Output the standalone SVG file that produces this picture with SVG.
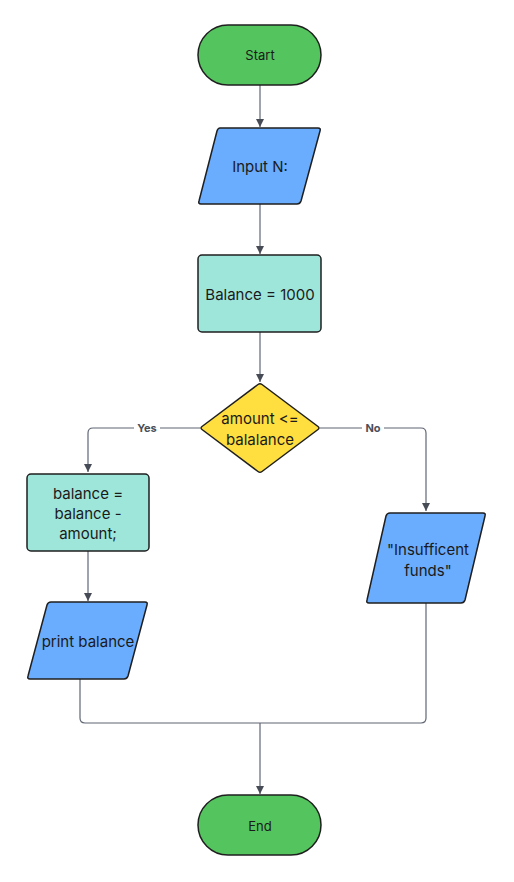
<svg xmlns="http://www.w3.org/2000/svg" width="514" height="882" viewBox="0 0 514 882">
<style>
.n{stroke:#1f1f1f;stroke-width:1.5;stroke-linejoin:round}
.term{fill:#54c45e}
.io{fill:#6aadff}
.proc{fill:#9fe6da}
.dec{fill:#ffdf3f}
.t{font-family:Inter,"Liberation Sans",sans-serif;font-size:15px;fill:#1a1a1a;text-anchor:middle;dominant-baseline:central}
.ts{font-size:13px}
.c{fill:none;stroke:#5f6673;stroke-width:1.2}
.lbl{font-family:Inter,"Liberation Sans",sans-serif;font-size:11px;font-weight:bold;fill:#4a4f59;text-anchor:middle;dominant-baseline:central}
</style>
<defs>
<marker id="ah" viewBox="0 0 10 10" refX="10" refY="5" markerWidth="8" markerHeight="8" markerUnits="userSpaceOnUse" orient="auto">
<path d="M0,0 L10,5 L0,10 Z" fill="#464b55"/>
</marker>
</defs>
<rect width="514" height="882" fill="#ffffff"/>
<g id="connectors">
<path class="c" d="M260,85 V127" marker-end="url(#ah)"/>
<path class="c" d="M260,204 V254" marker-end="url(#ah)"/>
<path class="c" d="M260,332 V382" marker-end="url(#ah)"/>
<path class="c" d="M200,428 H93 Q88,428 88,433 V472" marker-end="url(#ah)"/>
<path class="c" d="M320,428 H421 Q426,428 426,433 V511" marker-end="url(#ah)"/>
<path class="c" d="M88,551 V601" marker-end="url(#ah)"/>
<path class="c" d="M80,679 V718 Q80,723 85,723 H421 Q426,723 426,718 V603"/>
<path class="c" d="M260,723 V794" marker-end="url(#ah)"/>
<rect x="134" y="421" width="26" height="14" fill="#ffffff"/>
<text class="lbl" x="147" y="428">Yes</text>
<rect x="362" y="421" width="22" height="14" fill="#ffffff"/>
<text class="lbl" x="373" y="428">No</text>
</g>
<g id="start">
<rect class="n term" x="198" y="25" width="123" height="60" rx="30"/>
<text class="t ts" x="260" y="55">Start</text>
</g>
<g id="input">
<path class="n io" d="M220,128 H318 Q321,128 320,131 L301,201 Q300,204 297,204 H201 Q198,204 199,201 L217,131 Q218,128 220,128 Z"/>
<text class="t" x="260" y="166">Input N:</text>
</g>
<g id="init">
<rect class="n proc" x="198" y="255" width="123" height="77" rx="4"/>
<text class="t" x="260" y="294">Balance = 1000</text>
</g>
<g id="decision">
<path class="n dec" d="M258,384.5 Q260,383 262,384.5 L318,426.5 Q320,428 318,429.5 L262,471.5 Q260,473 258,471.5 L202,429.5 Q200,428 202,426.5 Z"/>
<text class="t" x="260" y="418">amount &lt;=</text>
<text class="t" x="260" y="439">balalance</text>
</g>
<g id="subtract">
<rect class="n proc" x="27" y="474" width="122" height="77" rx="4"/>
<text class="t" x="88" y="493">balance =</text>
<text class="t" x="88" y="513">balance -</text>
<text class="t" x="88" y="533">amount;</text>
</g>
<g id="print">
<path class="n io" d="M51,602 H145 Q148,602 147,605 L128,676 Q127,679 124,679 H30 Q27,679 28,676 L47,605 Q48,602 51,602 Z"/>
<text class="t" x="88" y="641">print balance</text>
</g>
<g id="insufficient">
<path class="n io" d="M390,513 H483 Q486,513 485,516 L465,600 Q464,603 461,603 H369 Q366,603 367,600 L386,516 Q387,513 390,513 Z"/>
<text class="t" x="428" y="549">"Insufficent</text>
<text class="t" x="428" y="570">funds"</text>
</g>
<g id="end">
<rect class="n term" x="198" y="795" width="123" height="60" rx="30"/>
<text class="t ts" x="260" y="826">End</text>
</g>
</svg>
